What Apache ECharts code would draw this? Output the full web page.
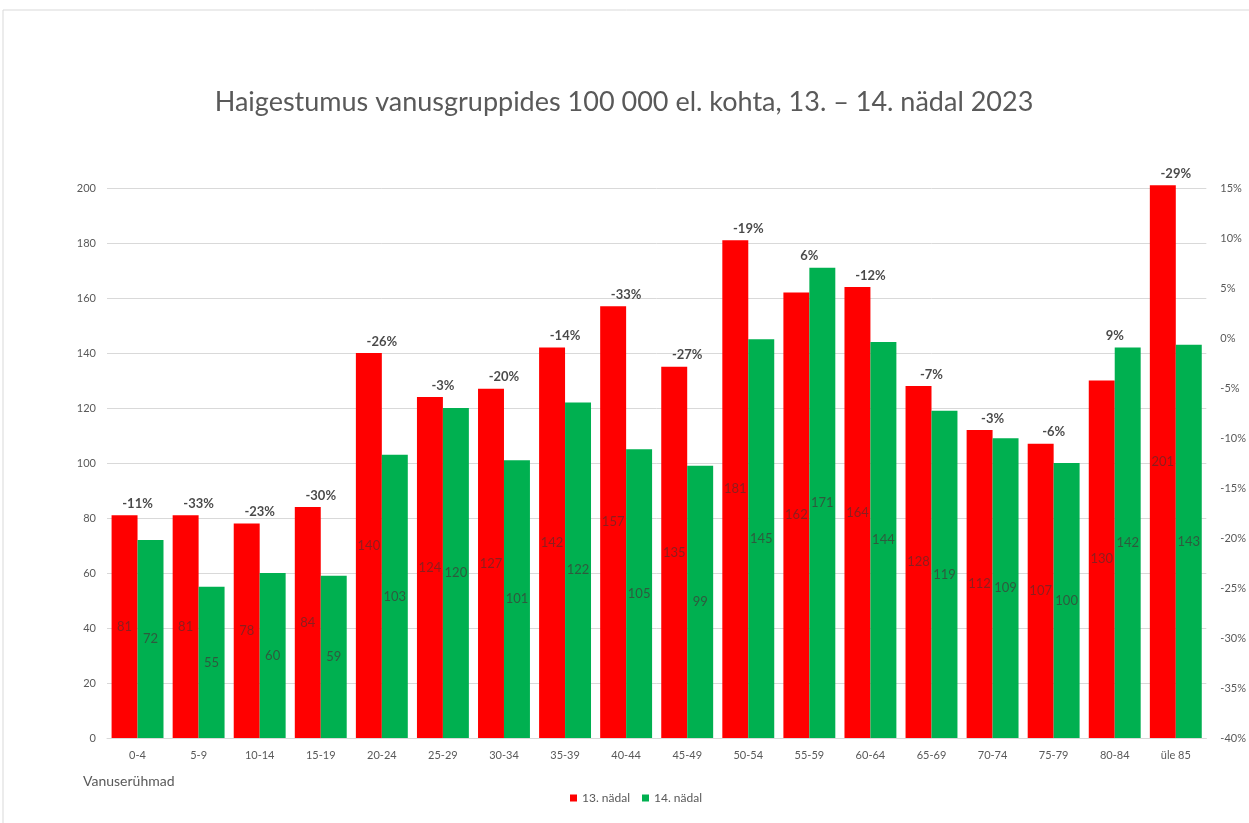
<!DOCTYPE html>
<meta charset="utf-8">
<style>
html, body { margin: 0; padding: 0; background: #fff; }
#main { width: 1249px; height: 823px; }
</style>
<div id="main"></div>
<script src="https://cdn.jsdelivr.net/npm/echarts@6/dist/echarts.min.js"></script>
<script>

var ageGroups = ['0-4', '5-9', '10-14', '15-19', '20-24', '25-29', '30-34', '35-39', '40-44',
    '45-49', '50-54', '55-59', '60-64', '65-69', '70-74', '75-79', '80-84', 'üle 85'];
var week13 = [81, 81, 78, 84, 140, 124, 127, 142, 157, 135, 181, 162, 164, 128, 112, 107, 130, 201];
var week14 = [72, 55, 60, 59, 103, 120, 101, 122, 105, 99, 145, 171, 144, 119, 109, 100, 142, 143];
var change = [-11, -33, -23, -30, -26, -3, -20, -14, -33, -27, -19, 6, -12, -7, -3, -6, 9, -29];

var labelTops = week13.map(function (v, i) {
    return Math.max(v, week14[i]);
});

var chart = echarts.init(document.getElementById('main'));

var axisText = { color: '#595959', fontSize: 11, fontFamily: 'Lato' };

chart.setOption({
    animation: false,
    title: {
        text: 'Haigestumus vanusgruppides 100 000 el. kohta, 13. – 14. nädal 2023',
        left: 619,
        textAlign: 'center',
        top: 84,
        textStyle: { color: '#595959', fontSize: 27, fontWeight: 'normal', fontFamily: 'Lato' }
    },
    legend: {
        data: ['13. nädal', '14. nädal'],
        bottom: 14,
        left: 565,
        icon: 'rect',
        itemWidth: 7,
        itemHeight: 7,
        itemGap: 12,
        textStyle: { color: '#595959', fontSize: 12, fontFamily: 'Lato' }
    },
    grid: { left: 107, right: 35, top: 188, bottom: 85 },
    xAxis: {
        type: 'category',
        data: ageGroups,
        axisLine: { lineStyle: { color: '#d9d9d9' } },
        axisTick: { show: false },
        axisLabel: Object.assign({ margin: 12 }, axisText)
    },
    yAxis: [
        {
            type: 'value',
            min: 0,
            max: 200,
            interval: 20,
            axisLabel: Object.assign({ margin: 11 }, axisText),
            splitLine: { lineStyle: { color: '#d9d9d9' } }
        },
        {
            type: 'value',
            min: -0.4,
            max: 0.15,
            interval: 0.05,
            position: 'right',
            splitLine: { show: false },
            axisLabel: Object.assign({
                margin: 14,
                formatter: function (v) { return Math.round(v * 100) + '%'; }
            }, axisText)
        }
    ],
    graphic: [
        {
            type: 'rect',
            shape: { x: 3, y: 10, width: 1300, height: 900 },
            style: { fill: 'none', stroke: '#d9d9d9', lineWidth: 1 },
            silent: true
        },
        {
            type: 'text',
            left: 83,
            top: 774,
            style: { text: 'Vanuserühmad', fill: '#595959', fontSize: 14, fontFamily: 'Lato' }
        }
    ],
    series: [
        {
            name: '13. nädal',
            type: 'bar',
            data: week13,
            barGap: '0%',
            barCategoryGap: '15%',
            clip: false,
            itemStyle: { color: '#ff0000' },
            label: {
                show: true,
                position: 'inside',
                color: '#8c1e1e',
                fontSize: 13,
                fontFamily: 'Lato'
            }
        },
        {
            name: '14. nädal',
            type: 'bar',
            data: week14,
            clip: false,
            itemStyle: { color: '#00b050' },
            label: {
                show: true,
                position: 'inside',
                color: '#2e5a3e',
                fontSize: 13,
                fontFamily: 'Lato'
            }
        },
        {
            name: 'muutus',
            type: 'scatter',
            data: labelTops,
            symbolSize: 0,
            clip: false,
            label: {
                show: true,
                position: 'top',
                distance: 5,
                color: '#1a1a1a',
                fontSize: 13,
                fontWeight: 'bold',
                fontFamily: 'Lato',
                formatter: function (p) { return change[p.dataIndex] + '%'; }
            }
        }
    ]
});

</script>
